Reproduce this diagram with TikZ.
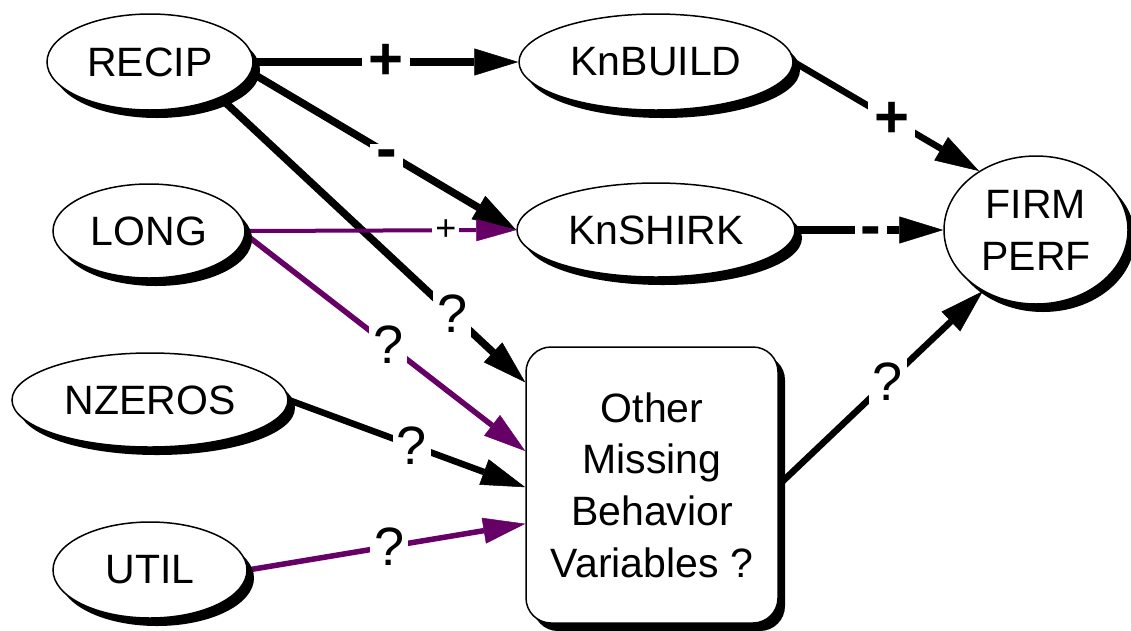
\documentclass[tikz,border=0pt]{standalone}
\usepackage{fontspec}
\setmainfont{Liberation Sans}
\usetikzlibrary{arrows.meta,shapes.geometric,shadows,backgrounds}
\definecolor{purp}{RGB}{102,0,102}
\begin{document}
\begin{tikzpicture}[x=1pt,y=-1pt,
  shad/.style={drop shadow={opacity=1,fill=black,shadow xshift=7pt,shadow yshift=-8pt}},
  var/.style={ellipse,draw=black,line width=1.5pt,fill=white,inner sep=0pt,
    font=\fontsize{41}{52}\selectfont,shad},
  mbox/.style={rectangle,rounded corners=25pt,draw=black,line width=1.5pt,fill=white,
    inner sep=0pt,align=center,font=\fontsize{41}{51.7}\selectfont,shad,
    minimum width=252pt,minimum height=276pt},
  blk/.style={draw=black,line width=7.5pt,-{Triangle[length=44pt,width=27pt,line width=0.5pt]}},
  blkthin/.style={draw=black,line width=6.5pt,-{Triangle[length=44pt,width=27pt,line width=0.5pt]}},
  pur/.style={draw=purp,line width=5.5pt,-{Triangle[length=42pt,width=26pt,line width=0.5pt]}},
  purthin/.style={draw=purp,line width=4pt,-{Triangle[length=40pt,width=22pt,line width=0.5pt]}},
  lab/.style={fill=white,inner sep=4pt,text=black,font=\fontsize{54}{54}\selectfont},
  plab/.style={fill=white,inner sep=6pt,text=black,font=\fontsize{60}{60}\selectfont\bfseries},
  mlab/.style={fill=white,inner sep=6pt,text=black,font=\fontsize{62}{62}\selectfont\bfseries,yshift=-7pt},
  slab/.style={fill=white,inner sep=3pt,text=black,font=\fontsize{36}{36}\selectfont}
]
\useasboundingbox (0,0) rectangle (1131,630);

\node[var,minimum width=206pt,minimum height=96pt] (recip) at (150,62) {RECIP};
\node[var,minimum width=192pt,minimum height=94pt] (long) at (149,231) {LONG};
\node[var,minimum width=276pt,minimum height=94pt] (nzeros) at (150,400) {NZEROS};
\node[var,minimum width=194pt,minimum height=96pt] (util) at (150,570) {UTIL};
\node[var,minimum width=274pt,minimum height=96pt] (knbuild) at (656,62) {KnBUILD};
\node[var,minimum width=278pt,minimum height=94pt] (knshirk) at (656,230) {KnSHIRK};
\node[var,align=center,minimum width=184pt,minimum height=148pt] (firm) at (1036,230) {FIRM\\PERF};
\node[mbox] (box) at (652,485) {Other\\Missing\\Behavior\\Variables ?};

\begin{scope}[on background layer]
\draw[blk] (recip.east) -- node[plab,pos=0.5] {+} (knbuild.west);
\draw[blk] (recip.-6) -- node[mlab,pos=0.51] {-} (knshirk.west);
\draw[blk] (recip.-27) -- node[lab,pos=0.76] {?} (box.141);
\draw[purthin] (long.east) -- node[slab,pos=0.74] {+} (knshirk.west);
\draw[pur] (long.-2) -- node[lab,pos=0.51] {?} (box.165);
\draw[blkthin] (nzeros.east) -- node[lab,pos=0.52] {?} (box.181);
\draw[pur] (util.east) -- node[lab,pos=0.51] {?} (box.197);
\draw[blkthin] (knbuild.east) -- node[plab,pos=0.53] {+} (firm.134);
\draw[blk] (knshirk.east) -- node[mlab,pos=0.51] {-} (firm.west);
\draw[blkthin] (box.east) -- node[lab,pos=0.535] {?} (firm.229);
\end{scope}
\end{tikzpicture}
\end{document}
